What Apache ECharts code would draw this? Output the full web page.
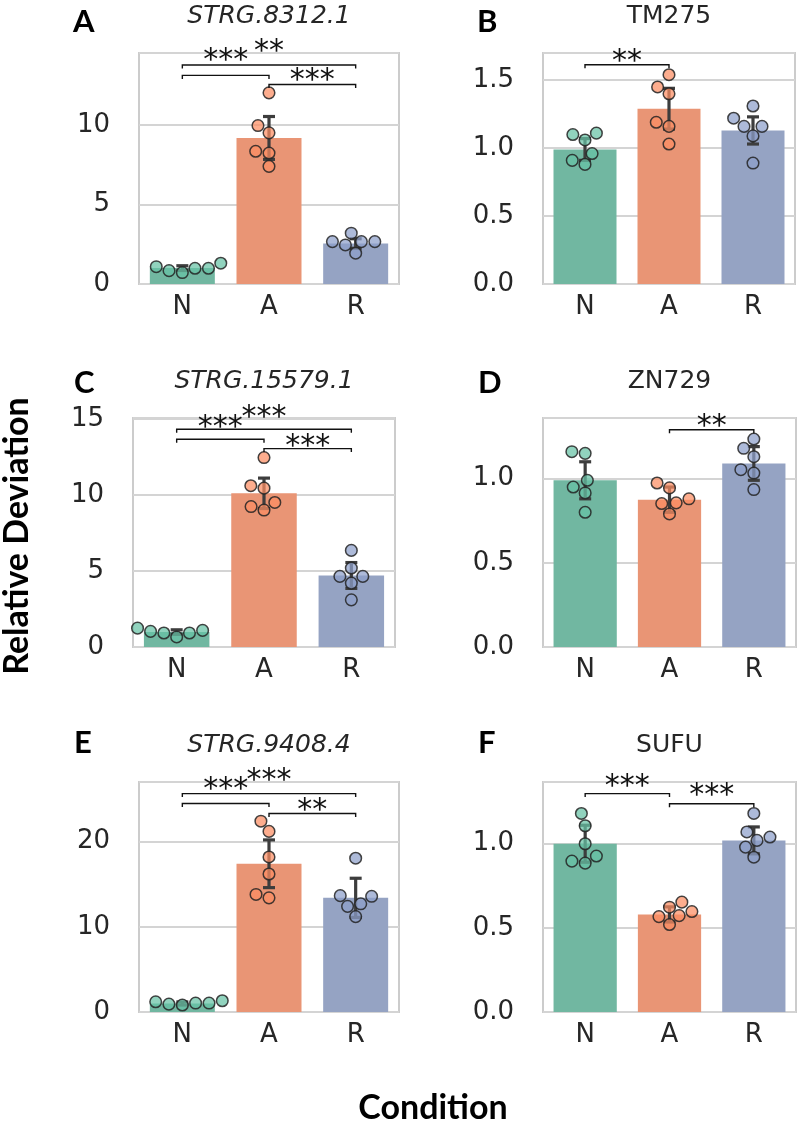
<!DOCTYPE html>
<html>
<head>
<meta charset="utf-8">
<script src="https://cdn.jsdelivr.net/npm/echarts@6/dist/echarts.min.js"></script>
<style>
  html, body { margin: 0; padding: 0; background: #fff; }
  #chart { width: 800px; height: 1129px; }
</style>
</head>
<body>
<div id="chart"></div>
<script>
// ---- data ----
const categories = ['N', 'A', 'R'];
const genes = ['STRG.8312.1', 'TM275', 'STRG.15579.1', 'ZN729', 'STRG.9408.4', 'SUFU'];
const italicGene = [true, false, true, false, true, false];
const letters = ['A', 'B', 'C', 'D', 'E', 'F'];

// A  STRG.8312.1
const meanA = [1.0, 9.2, 2.55];
const sdA = [0.15, 1.35, 0.3];
const ptsA = [[1.09, 0.84, 0.72, 0.99, 0.99, 1.31], [12.04, 9.98, 9.52, 8.36, 8.25, 7.41], [2.67, 2.46, 3.2, 2.67, 2.67, 1.94]];
// [from, to, bracket y, stars y, stars]
const sigA = [[0, 2, 13.79, 15.09, '**'], [0, 1, 13.14, 14.51, '***'], [1, 2, 12.57, 13.26, '***']];

// B  TM275
const meanB = [0.99, 1.29, 1.13];
const sdB = [0.08, 0.15, 0.1];
const ptsB = [[1.10, 1.11, 1.06, 0.96, 0.91, 0.88], [1.54, 1.45, 1.40, 1.19, 1.16, 1.03], [1.31, 1.22, 1.16, 1.16, 1.09, 0.89]];
const sigB = [[0, 1, 1.613, 1.692, '**']];

// C  STRG.15579.1
const meanC = [0.98, 10.1, 4.7];
const sdC = [0.15, 1.0, 0.85];
const ptsC = [[1.24, 1.09, 0.92, 0.66, 0.92, 1.03], [12.45, 10.6, 10.44, 9.23, 9.0, 9.5], [6.35, 4.64, 4.64, 5.19, 4.2, 3.1]];
const sigC = [[0, 2, 14.31, 15.58, '***'], [0, 1, 13.65, 14.86, '***'], [1, 2, 13.04, 13.65, '***']];

// D  ZN729
const meanD = [0.99, 0.875, 1.09];
const sdD = [0.11, 0.075, 0.1];
const ptsD = [[1.16, 1.15, 0.95, 0.99, 0.915, 0.80], [0.974, 0.945, 0.856, 0.88, 0.852, 0.79], [1.235, 1.18, 1.13, 1.053, 1.033, 0.935]];
const sigD = [[1, 2, 1.29, 1.35, '**']];

// E  STRG.9408.4
const meanE = [1.0, 17.4, 13.4];
const sdE = [0.18, 2.8, 2.3];
const ptsE = [[1.32, 1.2, 0.93, 0.82, 1.05, 1.05], [22.4, 21.2, 18.2, 16.2, 13.8, 13.4], [18.05, 13.66, 13.58, 12.4, 12.7, 11.2]];
const sigE = [[0, 2, 25.64, 27.98, '***'], [0, 1, 24.47, 27.0, '***'], [1, 2, 23.31, 24.47, '**']];

// F  SUFU
const meanF = [1.0, 0.58, 1.02];
const sdF = [0.11, 0.045, 0.08];
const ptsF = [[1.18, 1.107, 1.0, 0.897, 0.927, 0.885], [0.623, 0.653, 0.573, 0.567, 0.597, 0.52], [1.18, 1.07, 1.04, 1.02, 0.98, 0.92]];
const sigF = [[0, 1, 1.298, 1.381, '***'], [1, 2, 1.238, 1.327, '***']];

// y axis ranges / tick steps
const yMax = [14.55, 1.70, 15.05, 1.36, 27.0, 1.367];
const yStep = [5, 0.5, 5, 0.5, 10, 0.5];

const means = [meanA, meanB, meanC, meanD, meanE, meanF];
const sds = [sdA, sdB, sdC, sdD, sdE, sdF];
const points = [ptsA, ptsB, ptsC, ptsD, ptsE, ptsF];
const sigs = [sigA, sigB, sigC, sigD, sigE, sigF];

// ---- layout / style ----
const grids = [
  { left: 139, top: 53, width: 260, height: 231 },
  { left: 543, top: 53, width: 252, height: 231 },
  { left: 133, top: 418, width: 262, height: 229 },
  { left: 543, top: 418, width: 253, height: 229 },
  { left: 139, top: 782, width: 260, height: 230 },
  { left: 543, top: 782, width: 253, height: 230 }
];
const barColors = ['#71b7a1', '#e99575', '#95a3c3'];
const dotColors = ['rgba(102,194,165,0.72)', 'rgba(252,141,98,0.72)', 'rgba(141,160,203,0.72)'];
const textColor = '#262626';
const tickFont = '"DejaVu Sans", sans-serif';
const starSize = 30;
const dotR = 5.8;

// simple beeswarm (seaborn style) in pixel space
function swarm(values, pxPerUnit, r) {
  const order = values.map((v, i) => i).sort((a, b) => values[a] - values[b]);
  const placed = [];
  const out = new Array(values.length);
  order.forEach(i => {
    const y = values[i] * pxPerUnit;
    const near = placed.filter(p => Math.abs(p.y - y) < 2 * r);
    const cands = [0];
    let leftFirst = true;
    near.forEach(p => {
      const dx = Math.sqrt(Math.max(4 * r * r - (y - p.y) * (y - p.y), 0)) * 1.05;
      if (leftFirst) cands.push(p.x - dx, p.x + dx); else cands.push(p.x + dx, p.x - dx);
      leftFirst = !leftFirst;
    });
    const sorted = cands.map((x, k) => ({ x, k }))
      .sort((a, b) => (Math.abs(a.x) - Math.abs(b.x)) || (a.k - b.k));
    let xs = 0;
    for (const c of sorted) {
      if (near.every(p => (p.x - c.x) ** 2 + (p.y - y) ** 2 >= 4 * r * r * 0.999)) { xs = c.x; break; }
    }
    placed.push({ x: xs, y });
    out[i] = xs;
  });
  return out;
}

const option = {
  animation: false,
  backgroundColor: '#fff',
  textStyle: { fontFamily: tickFont },
  grid: [], xAxis: [], yAxis: [], series: [], graphic: []
};

grids.forEach((g, i) => {
  option.grid.push(Object.assign({ show: true, borderColor: '#cccccc', borderWidth: 2, backgroundColor: '#fff' }, g));
  option.xAxis.push({
    type: 'category', gridIndex: i, data: categories,
    axisLine: { show: false }, axisTick: { show: false },
    axisLabel: { color: textColor, fontFamily: tickFont, fontSize: 26, margin: 10 },
    splitLine: { show: false }
  });
  option.yAxis.push({
    type: 'value', gridIndex: i, min: 0, max: yMax[i], interval: yStep[i],
    axisLine: { show: false }, axisTick: { show: false },
    axisLabel: {
      color: textColor, fontFamily: tickFont, fontSize: 26, margin: 29, showMaxLabel: false,
      formatter: v => yStep[i] < 1 ? v.toFixed(1) : String(Math.round(v))
    },
    splitLine: { show: true, lineStyle: { color: '#d4d4d4', width: 2 } }
  });

  // bars
  option.series.push({
    type: 'bar', xAxisIndex: i, yAxisIndex: i, barCategoryGap: '25%', z: 2, silent: true,
    data: means[i].map((m, k) => ({ value: m, itemStyle: { color: barColors[k] } }))
  });

  // error bars
  option.series.push({
    type: 'custom', xAxisIndex: i, yAxisIndex: i, z: 3, silent: true,
    data: means[i].map((m, k) => [k, m, sds[i][k]]),
    renderItem: (params, api) => {
      const k = api.value(0), m = api.value(1), s = api.value(2);
      const top = api.coord([k, m + s]), bot = api.coord([k, m - s]);
      const st = { stroke: '#3d3d3d', lineWidth: 3.2 };
      return {
        type: 'group', children: [
          { type: 'line', shape: { x1: top[0], y1: top[1], x2: bot[0], y2: bot[1] }, style: st },
          { type: 'line', shape: { x1: top[0] - 6, y1: top[1], x2: top[0] + 6, y2: top[1] }, style: st },
          { type: 'line', shape: { x1: bot[0] - 6, y1: bot[1], x2: bot[0] + 6, y2: bot[1] }, style: st }
        ]
      };
    }
  });

  // swarm points
  const pxPerUnit = g.height / yMax[i];
  const dots = [];
  points[i].forEach((vals, k) => {
    const dx = swarm(vals, pxPerUnit, 6.4);
    vals.forEach((v, j) => dots.push([k, v, dx[j]]));
  });
  option.series.push({
    type: 'custom', xAxisIndex: i, yAxisIndex: i, z: 4, silent: true,
    data: dots,
    renderItem: (params, api) => {
      const k = api.value(0);
      const p = api.coord([k, api.value(1)]);
      return {
        type: 'circle', shape: { cx: p[0] + api.value(2), cy: p[1], r: dotR },
        style: { fill: dotColors[k], stroke: 'rgba(35,35,35,0.85)', lineWidth: 1.5 }
      };
    }
  });

  // significance brackets
  option.series.push({
    type: 'custom', xAxisIndex: i, yAxisIndex: i, z: 5, silent: true, clip: false,
    data: sigs[i].map(s => [s[0], s[2], s[1], s[3]]),
    renderItem: (params, api) => {
      const s = sigs[i][params.dataIndex];
      const p1 = api.coord([s[0], s[2]]), p2 = api.coord([s[1], s[2]]);
      const ty = api.coord([s[0], s[3]])[1];
      return {
        type: 'group', children: [
          {
            type: 'polyline',
            shape: { points: [[p1[0], p1[1] + 3.5], [p1[0], p1[1]], [p2[0], p2[1]], [p2[0], p2[1] + 3.5]] },
            style: { stroke: '#111', fill: null, lineWidth: 1.4 }
          },
          {
            type: 'text', x: (p1[0] + p2[0]) / 2, y: ty + starSize * 0.26,
            style: { text: s[4], font: starSize + 'px "DejaVu Sans"', fill: '#111', align: 'center', verticalAlign: 'middle' }
          }
        ]
      };
    }
  });

  // gene title
  option.graphic.push({
    type: 'text', x: g.left + g.width / 2, y: g.top - 37,
    style: {
      text: genes[i], fill: textColor,
      font: (italicGene[i] ? 'italic ' : '') + '25px "DejaVu Sans"',
      align: 'center', verticalAlign: 'middle'
    }
  });
});

// panel letters
const letterPos = [[73, 22], [477, 22], [74, 383], [478, 383], [74, 743], [478, 743]];
letters.forEach((l, i) => {
  option.graphic.push({
    type: 'text', x: letterPos[i][0], y: letterPos[i][1],
    style: { text: l, fill: '#000', font: 'bold 31px Lato', align: 'left', verticalAlign: 'middle' }
  });
});

// shared axis titles
option.graphic.push({
  type: 'text', x: 17, y: 536, rotation: Math.PI / 2,
  style: { text: 'Relative Deviation', fill: '#000', font: 'bold 34px Lato', align: 'center', verticalAlign: 'middle' }
});
option.graphic.push({
  type: 'text', x: 433, y: 1108,
  style: { text: 'Condition', fill: '#000', font: 'bold 34px Lato', align: 'center', verticalAlign: 'middle' }
});

const chart = echarts.init(document.getElementById('chart'), null, { renderer: 'canvas' });
chart.setOption(option);
</script>
</body>
</html>
